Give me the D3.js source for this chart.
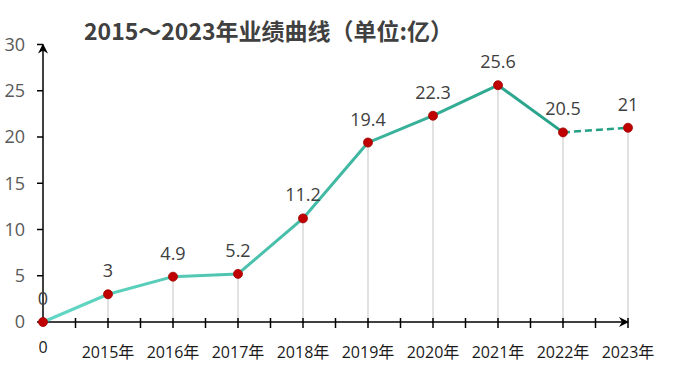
<!DOCTYPE html>
<html><head><meta charset="utf-8">
<script src="https://cdn.jsdelivr.net/npm/d3@7/dist/d3.min.js"></script>
<style>
body{margin:0;background:#fff;}
svg{display:block;font-family:"Open Sans","Noto Sans CJK SC",sans-serif;}
</style></head>
<body><svg id="c" width="700" height="367"></svg>
<script>
const categories = ["2015年","2016年","2017年","2018年","2019年","2020年","2021年","2022年","2023年"];
const values = [3, 4.9, 5.2, 11.2, 19.4, 22.3, 25.6, 20.5, 21];
const originLabel = "0";
const originValue = 0;
const yTicks = [0, 5, 10, 15, 20, 25, 30];
const title = "2015～2023年业绩曲线（单位:亿）";

const svg = d3.select("#c");
const x = d3.scaleLinear().domain([0, categories.length]).range([43, 628]);
const y = d3.scaleLinear().domain([0, 30]).range([322, 44.5]);

const pts = [{i:0, v:originValue, label:originLabel}].concat(values.map((v,k)=>({i:k+1, v, label:String(v)})));

const defs = svg.append("defs");
const grad = defs.append("linearGradient").attr("id","lg").attr("gradientUnits","userSpaceOnUse")
  .attr("x1", x(0)).attr("x2", x(categories.length)).attr("y1",0).attr("y2",0);
grad.append("stop").attr("offset","0%").attr("stop-color","#64d8c6");
grad.append("stop").attr("offset","100%").attr("stop-color","#1f9a80");
defs.append("marker").attr("id","arr").attr("viewBox","0 0 10 10").attr("refX",9).attr("refY",5)
  .attr("markerWidth",10).attr("markerHeight",10).attr("markerUnits","userSpaceOnUse").attr("orient","auto")
  .append("path").attr("d","M0,0 L10,5 L0,10 L3,5 Z").attr("fill","#000");

// title
svg.append("text").attr("x", 84).attr("y", 40).attr("font-size", 23).attr("font-weight", "bold")
  .attr("fill", "#404040").attr("font-family", "'Noto Sans CJK SC',sans-serif").text(title);

// drop lines
svg.append("g").selectAll("line").data(pts.slice(1)).join("line")
  .attr("x1", d=>x(d.i)).attr("x2", d=>x(d.i)).attr("y1", d=>y(d.v)).attr("y2", y(0))
  .attr("stroke", "#d9d9d9").attr("stroke-width", 1.5);

// y axis
const yg = svg.append("g");
yg.append("line").attr("x1", x(0)).attr("x2", x(0)).attr("y1", y(0)).attr("y2", y(30))
  .attr("stroke","#000").attr("stroke-width",1.5).attr("marker-end","url(#arr)");
yg.selectAll(".t").data(yTicks).join("line").attr("x1", x(0)-6).attr("x2", x(0))
  .attr("y1", d=>y(d)).attr("y2", d=>y(d)).attr("stroke","#000").attr("stroke-width",1.5);
yg.selectAll("text").data(yTicks).join("text").attr("x", 25).attr("y", d=>y(d)).attr("dy","0.36em")
  .attr("text-anchor","end").attr("font-size",18).attr("fill","#595959").text(d=>d);

// x axis
const xg = svg.append("g");
xg.append("line").attr("x1", x(0)).attr("x2", x(categories.length)).attr("y1", y(0)).attr("y2", y(0))
  .attr("stroke","#000").attr("stroke-width",1.5).attr("marker-end","url(#arr)");
const xTicks = d3.range(1, categories.length*2+1).map(d=>d/2);
xg.selectAll(".t").data(xTicks).join("line").attr("x1", d=>x(d)).attr("x2", d=>x(d))
  .attr("y1", y(0)-4).attr("y2", y(0)+6).attr("stroke","#000").attr("stroke-width",1.5);
xg.selectAll("text").data(categories).join("text").attr("x", (d,k)=>x(k+1)).attr("y", 358)
  .attr("text-anchor","middle").attr("font-size",16).attr("fill","#1a1a1a").text(d=>d);
svg.append("text").attr("x", x(0)).attr("y", 353).attr("text-anchor","middle").attr("font-size",16)
  .attr("fill","#1a1a1a").text(originLabel);

// line
const line = d3.line().x(d=>x(d.i)).y(d=>y(d.v));
const solid = pts.slice(0, pts.length-1);
const dashed = pts.slice(pts.length-2);
svg.append("path").attr("d", line(solid)).attr("fill","none").attr("stroke","url(#lg)").attr("stroke-width",3)
  .attr("stroke-linejoin","round");
svg.append("path").attr("d", line(dashed)).attr("fill","none").attr("stroke","#24a085").attr("stroke-width",2.5)
  .attr("stroke-dasharray","7,4");

// points
svg.append("g").selectAll("circle").data(pts).join("circle")
  .attr("cx", d=>x(d.i)).attr("cy", d=>y(d.v)).attr("r", 4.5)
  .attr("fill","#c00000").attr("stroke","#a00000").attr("stroke-width",0.8);

// labels
svg.append("g").selectAll("text").data(pts).join("text")
  .attr("x", d=>x(d.i)).attr("y", d=>y(d.v)-17).attr("text-anchor","middle")
  .attr("font-size",18).attr("fill","#404040").text(d=>d.label);
</script></body></html>
